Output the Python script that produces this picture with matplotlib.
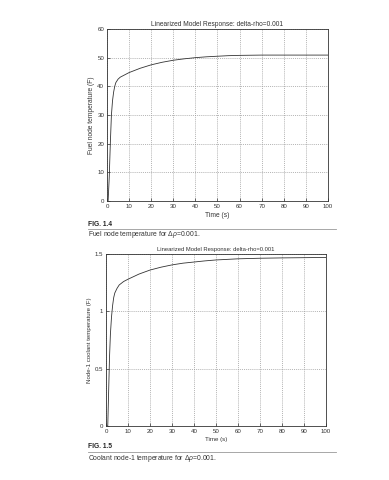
import matplotlib
matplotlib.use("Agg")
import matplotlib.pyplot as plt
from matplotlib.lines import Line2D

plt.rcParams['font.family'] = ['Liberation Sans', 'DejaVu Sans']
plt.rcParams['mathtext.fontset'] = 'custom'
plt.rcParams['mathtext.rm'] = 'Liberation Sans'
plt.rcParams['mathtext.it'] = 'Liberation Sans:italic'

# Fuel node temperature data (Fig 1.4)
fuel_t = [0, 0.5, 1.0, 1.5, 2.0, 2.5, 3.0, 3.5, 4.0, 5.0, 6.0, 8.0, 10, 15, 20, 25, 30, 35, 40, 45, 50, 55, 60, 70, 80, 90, 100]
fuel_T = [0, 0.0, 8.0, 20.0, 30.0, 35.0, 38.0, 40.0, 41.3, 42.5, 43.2, 44.0, 44.8, 46.3, 47.5, 48.4, 49.1, 49.6, 50.0, 50.3, 50.5, 50.7, 50.8, 50.9, 50.9, 50.9, 50.9]

# Coolant node-1 temperature data (Fig 1.5)
cool_t = [0, 0.8, 1.2, 1.6, 2.0, 2.5, 3.0, 3.5, 4.0, 5.0, 6.0, 8.0, 10, 15, 20, 25, 30, 35, 40, 45, 50, 60, 70, 80, 90, 100]
cool_T = [0, 0.0, 0.3, 0.6, 0.8, 0.95, 1.05, 1.12, 1.16, 1.2, 1.23, 1.26, 1.28, 1.325, 1.36, 1.385, 1.405, 1.42, 1.43, 1.44, 1.448, 1.458, 1.463, 1.466, 1.468, 1.47]

x_ticks = [0, 10, 20, 30, 40, 50, 60, 70, 80, 90, 100]
fuel_yticks = [0, 10, 20, 30, 40, 50, 60]
cool_yticks = [0, 0.5, 1, 1.5]
cool_ylabels = ["0", "0.5", "1", "1.5"]

title_txt = "Linearized Model Response: delta-rho=0.001"

W, H = 389, 480
fig = plt.figure(figsize=(W / 100, H / 100), dpi=100)
fig.patch.set_facecolor("white")

def ax_rect(l, t, r, b):
    return [l / W, 1 - b / H, (r - l) / W, (b - t) / H]

def style(ax):
    ax.tick_params(direction="in", length=2, width=0.5, labelsize=4.4, pad=2, colors="#333333")
    ax.grid(True, color="#999999", linestyle=(0, (1.5, 1.5)), linewidth=0.5)
    for s in ax.spines.values():
        s.set_linewidth(0.6)
        s.set_color("#333333")

ax1 = fig.add_axes(ax_rect(107, 29, 328, 201))
ax1.plot(fuel_t, fuel_T, color="#333333", linewidth=0.6)
ax1.set_xlim(0, 100)
ax1.set_ylim(0, 60)
ax1.set_xticks(x_ticks)
ax1.set_yticks(fuel_yticks)
style(ax1)
ax1.set_title(title_txt, fontsize=4.8, pad=2.5, color="#333333")
ax1.set_xlabel("Time (s)", fontsize=4.8, labelpad=2, color="#333333")
ax1.set_ylabel("Fuel node temperature (F)", fontsize=4.8, labelpad=2, color="#333333")

ax2 = fig.add_axes(ax_rect(106, 254, 326, 426))
ax2.plot(cool_t, cool_T, color="#333333", linewidth=0.6)
ax2.set_xlim(0, 100)
ax2.set_ylim(0, 1.5)
ax2.set_xticks(x_ticks)
ax2.set_yticks(cool_yticks)
ax2.set_yticklabels(cool_ylabels)
style(ax2)
ax2.set_title(title_txt, fontsize=4.2, pad=2.5, color="#333333")
ax2.set_xlabel("Time (s)", fontsize=4.4, labelpad=2, color="#333333")
ax2.set_ylabel("Node-1 coolant temperature (F)", fontsize=4.4, labelpad=2, color="#333333")

# Captions
def caption(fig_label, line_y, text, label_y, text_y):
    fig.text(88 / W, 1 - label_y / H, fig_label, fontsize=4.8, fontweight="bold",
             va="center", ha="left", color="#222222")
    fig.add_artist(Line2D([88 / W, 336 / W], [1 - line_y / H, 1 - line_y / H],
                          color="#999999", linewidth=0.6))
    fig.text(88 / W, 1 - text_y / H, text, fontsize=4.9, va="center", ha="left", color="#333333")

caption("FIG. 1.4", 229, r"Fuel node temperature for $\Delta\rho$=0.001.", 224, 235)
caption("FIG. 1.5", 452, r"Coolant node-1 temperature for $\Delta\rho$=0.001.", 447, 458)

fig.savefig("out.png", dpi=100, facecolor="white")
